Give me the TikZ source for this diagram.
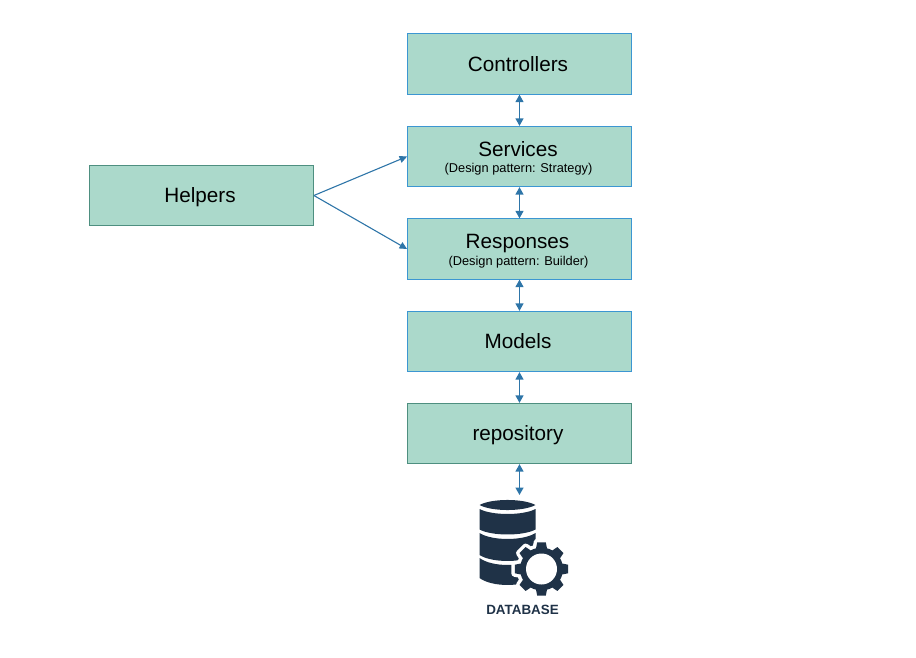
\documentclass[tikz,border=0pt]{standalone}
\usepackage{fontspec}
\setmainfont{Liberation Sans}
\usetikzlibrary{arrows.meta}
\definecolor{boxfill}{HTML}{ABD9CB}
\definecolor{boxline}{HTML}{3C96D2}
\definecolor{boxgrey}{HTML}{4E8F80}
\definecolor{arrowc}{HTML}{2E75A8}
\definecolor{dbc}{HTML}{1F3247}
\newcommand{\gearshape}{%
  (541.5,569) circle[radius=21.5]
  \foreach \a in {0,45,...,315}{
    [rotate around={\a:(541.5,569)}] (535.5,551) -- (537.2,542.3) -- (545.8,542.3) -- (547.5,551) -- cycle
  }
}
\newcommand{\dbband}[3]{% top edge y, bottom edge y, sag
  \fill[dbc] (479.5,#1) .. controls (492,{#1+1.33*#3}) and (523,{#1+1.33*#3}) .. (535.5,#1)
    -- (535.5,#2) .. controls (523,{#2+1.33*#3}) and (492,{#2+1.33*#3}) .. (479.5,#2) -- cycle;
}
\tikzset{
  layer/.style={draw=boxline,fill=boxfill,line width=0.8pt,minimum width=224pt,minimum height=60.5pt,inner sep=0pt},
  graybox/.style={layer,draw=boxgrey},
  maintext/.style={font=\fontsize{20.7}{22}\selectfont,inner sep=0pt,anchor=base},
  sub/.style={font=\fontsize{12.8}{13}\selectfont,inner sep=0pt,anchor=base},
  link/.style={draw=arrowc,line width=1.4pt,{Triangle[width=8pt,length=7.5pt]}-{Triangle[width=8pt,length=7.5pt]}},
  uselink/.style={draw=arrowc,line width=1.1pt,-{Triangle[width=7pt,length=7.5pt]}}
}
\begin{document}
\begin{tikzpicture}[x=1pt,y=-1pt]
\useasboundingbox (0,0) rectangle (916,658);
\node[layer] (controllers) at (519.5,64) {};
\node[layer] (services) at (519.5,156.5) {};
\node[layer] (responses) at (519.5,249) {};
\node[layer] (models) at (519.5,341.5) {};
\node[graybox] (repository) at (519.5,433.5) {};
\node[graybox] (helpers) at (201.5,195.5) {};
\node[maintext] (controllerst) at (518,71.7) {Controllers};
\node[maintext] (servicest) at (518,156.7) {Services};
\node[sub] (servicess) at (518.5,173) {(Design pattern: Strategy)};
\node[maintext] (responsest) at (517.5,248) {Responses};
\node[sub] (responsess) at (518.5,265) {(Design pattern: Builder)};
\node[maintext] (modelst) at (518,348) {Models};
\node[maintext] (repositoryt) at (518,440) {repository};
\node[maintext] (helperst) at (200,202) {Helpers};
\coordinate (db) at (519.5,495);
\draw[link] (controllers.south) -- (services.north);
\draw[link] (services.south) -- (responses.north);
\draw[link] (responses.south) -- (models.north);
\draw[link] (models.south) -- (repository.north);
\draw[link] (repository.south) -- (db);
\draw[uselink] (helpers.east) -- (services.west);
\draw[uselink] (helpers.east) -- (responses.west);
% database icon
\fill[dbc] (479.5,505) .. controls (492,498.3) and (523,498.3) .. (535.5,505)
  .. controls (523,511.7) and (492,511.7) .. cycle;
\dbband{509}{529.5}{5}
\dbband{533}{555}{6}
\dbband{558}{578}{7}
% white outline of the gear cut out of the cylinder
\draw[white,fill=white,line width=7pt,line join=round] \gearshape;
\fill[dbc] \gearshape;
\fill[white] (541.5,569) circle[radius=15.5];
\node[font=\bfseries\fontsize{13.4}{14}\selectfont,text=dbc,inner sep=0pt,anchor=base] (dblabel) at (522.5,614) {DATABASE};
\end{tikzpicture}
\end{document}
